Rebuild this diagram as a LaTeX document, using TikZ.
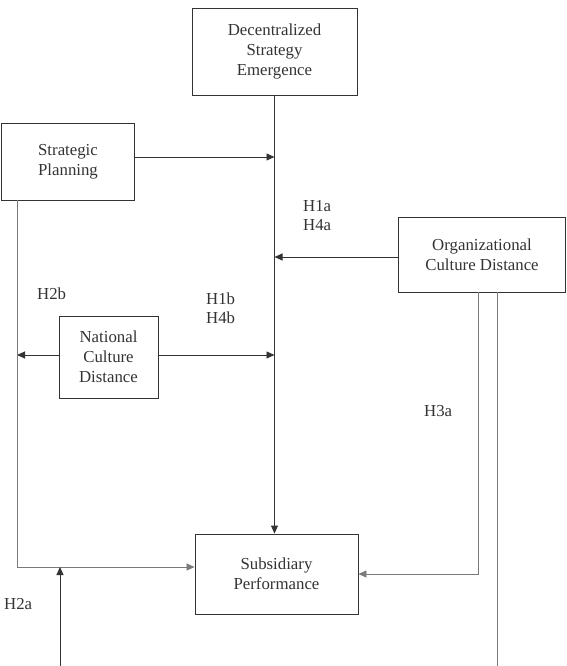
\documentclass[tikz,border=0pt]{standalone}
\usepackage{fontspec}
\setmainfont{Liberation Serif}
\usetikzlibrary{arrows.meta}
\definecolor{ink}{HTML}{333333}
\definecolor{lightink}{HTML}{7A7A7A}
\tikzset{
  boxnode/.style={draw=ink, line width=0.9pt, text=ink, align=center, inner sep=0pt,
    font=\fontsize{16.8}{20}\selectfont},
  hlabel/.style={anchor=west, text=ink, inner sep=0pt, font=\fontsize{16.8}{19}\selectfont},
  conn/.style={draw=ink, line width=0.9pt},
  lightconn/.style={draw=lightink, line width=0.8pt},
  arr/.style={-{Triangle[length=8pt,width=7pt]}}
}
\begin{document}
\begin{tikzpicture}[x=1pt,y=-1pt]
\useasboundingbox (0,0) rectangle (567,666);
% boxes
\node[boxnode, minimum width=165, minimum height=87] (dse) at (274.5,51.5) {Decentralized\\Strategy\\Emergence};
\node[boxnode, minimum width=133, minimum height=77] (sp) at (68,161.5) {Strategic\\Planning};
\node[boxnode, minimum width=167, minimum height=75] (ocd) at (482,254.5) {Organizational\\Culture Distance};
\node[boxnode, minimum width=99, minimum height=82] (ncd) at (108.5,357) {National\\Culture\\Distance};
\node[boxnode, minimum width=163, minimum height=80] (perf) at (276.5,574) {Subsidiary\\Performance};
% junction coordinates
\coordinate (jsp) at (274.5,157);
\coordinate (jocd) at (274.5,257);
\coordinate (lx) at (17,200);
\coordinate (lcorner) at (17,567);
\coordinate (jl) at (17,355);
\coordinate (jr) at (274.5,355);
\coordinate (upbot) at (60,666);
\coordinate (uptop) at (60,567);
\coordinate (r1) at (478,292);
\coordinate (r1c) at (478,574);
\coordinate (r2) at (497,292);
\coordinate (r2b) at (497,666);
% connectors
\draw[conn,arr] (dse.south) -- (dse.south |- perf.north);
\draw[conn,arr] (sp.east |- jsp) -- (jsp);
\draw[conn,arr] (ocd.west |- jocd) -- (jocd);
\draw[conn,arr] (ncd.east |- jr) -- (jr);
\draw[conn,arr] (ncd.west |- jl) -- (jl);
\draw[lightconn,arr] (lx) -- (lcorner) -- (perf.west |- lcorner);
\draw[conn,arr] (upbot) -- (uptop);
\draw[lightconn,arr] (r1) -- (r1c) -- (perf.east);
\draw[lightconn] (r2) -- (r2b);
% labels
\node[hlabel] (h1a) at (303,206) {H1a};
\node[hlabel] (h4a) at (303,225) {H4a};
\node[hlabel] (h1b) at (206,299) {H1b};
\node[hlabel] (h4b) at (206,318) {H4b};
\node[hlabel] (h2b) at (37,294) {H2b};
\node[hlabel] (h3a) at (424,411) {H3a};
\node[hlabel] (h2a) at (4,604) {H2a};
\end{tikzpicture}
\end{document}
